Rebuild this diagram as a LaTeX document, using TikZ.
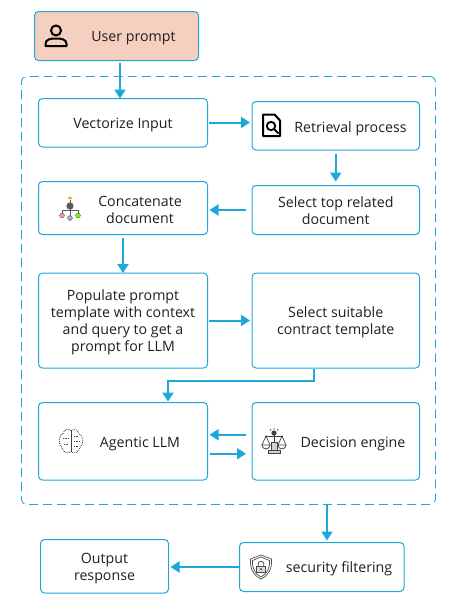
\documentclass[tikz,border=0pt]{standalone}
\usepackage{fontspec}
\setmainfont{Open Sans}
\usepackage{xcolor}
\usetikzlibrary{arrows.meta,positioning,calc}

\definecolor{flowblue}{HTML}{1EA7DB}
\definecolor{inkdark}{HTML}{1F1F1F}
\definecolor{peach}{HTML}{F5D0C0}

% Icons
\tikzset{
    personicon/.pic={
        \draw[black, line width=2pt] (0,-5.5) circle (5pt);
        \draw[black, line width=2pt, line join=round] (-10.5,10) -- (-10.5,8) .. controls (-10.5,3) and (-5,2.5) .. (0,2.5)
            .. controls (5,2.5) and (10.5,3) .. (10.5,8) -- (10.5,10) -- cycle;
    },
    docicon/.pic={
        \draw[black, line width=2pt, line join=round] (-8.5,-11) -- (3,-11) -- (8.5,-5) -- (8.5,10.5) -- (-8.5,10.5) -- cycle;
        \draw[black, line width=1.8pt] (-0.5,0.5) circle (4.2pt);
        \draw[black, line width=2pt] (2.5,3.5) -- (7,8);
    },
    treeicon/.pic={
        \draw[gray!70!black, line width=0.8pt] (0,-8) -- (0,8);
        \draw[gray!70!black, line width=0.8pt] (-8,6) -- (-8,2) -- (8,2) -- (8,6);
        \fill[orange!70!yellow] (0,-12) -- (2.5,-9) -- (-2.5,-9) -- cycle;
        \fill[gray!70!black] (0,-2) circle (3.6pt);
        \draw[gray!70!black, fill=red!40] (-8,7.5) circle (2.4pt);
        \draw[gray!70!black, fill=violet!40] (0,10) circle (2.4pt);
        \draw[gray!70!black, fill=green!55!yellow] (8,7.5) circle (2.4pt);
    },
    brainicon/.pic={
        \draw[black!75, line width=0.9pt, densely dotted] (0,-11) .. controls (-5,-14) and (-7,-10) .. (-8,-8)
            .. controls (-13,-6) and (-13,4) .. (-9,6) .. controls (-8,11) and (-3,13) .. (0,10);
        \draw[black!75, line width=0.8pt, densely dotted] (0,-11) .. controls (5,-14) and (7,-10) .. (8,-8)
            .. controls (13,-6) and (13,4) .. (9,6) .. controls (8,11) and (3,13) .. (0,10);
        \draw[black!75, line width=0.8pt] (0,-11) -- (0,10);
        \draw[black!75, line width=0.7pt, densely dotted] (-8,-3) -- (-2,-3) (-7,3) -- (-2,3) (3,-5) -- (8,-5) (3,0) -- (9,0) (3,5) -- (7,5);
    },
    scalesicon/.pic={
        \draw[black!75, line width=0.9pt] (-9,-5) -- (9,-5) (0,-8) -- (0,8);
        \draw[black!75, line width=0.7pt] (-12,4) -- (-8,-5) -- (-4,4) (12,4) -- (8,-5) -- (4,4);
        \draw[black!75, line width=0.8pt] (-12,4) arc (180:0:4pt) -- cycle;
        \draw[black!75, line width=0.8pt] (4,4) arc (180:0:4pt) -- cycle;
        \fill[black!75] (0,-8) circle (2.6pt);
        \draw[black!75, line width=0.7pt] (0,-13) -- (0,-11.5) (-4,-12) -- (-3,-10.5) (4,-12) -- (3,-10.5);
        \draw[black!75, fill=gray!35, line width=0.7pt] (-3,1) rectangle (3,9);
        \draw[black!75, fill=gray!35, line width=0.7pt] (-6,9) rectangle (6,12);
    },
    shieldicon/.pic={
        \draw[black!70, line width=0.7pt] (0,-12) -- (10.5,-8) .. controls (11,2) and (8,8) .. (0,12)
            .. controls (-8,8) and (-11,2) .. (-10.5,-8) -- cycle;
        \draw[black!70, line width=0.7pt] (0,-10) -- (8.5,-6.5) .. controls (9,2) and (6,6.5) .. (0,10)
            .. controls (-6,6.5) and (-9,2) .. (-8.5,-6.5) -- cycle;
        \draw[black!70, line width=0.8pt] (-2.8,-1) -- (-2.8,-3) arc (180:360:2.8pt) -- (2.8,-1);
        \draw[black!70, fill=gray!30, line width=0.7pt] (-4.5,-1) rectangle (4.5,5.5);
        \fill[black!80] (0,2.2) circle (1pt);
    }
}

\begin{document}
\begin{tikzpicture}[
    x=1pt, y=1pt,
    font=\fontsize{14.2pt}{17pt}\selectfont,
    % Styles
    flowbox/.style={
        rectangle,
        draw=flowblue,
        line width=1pt,
        rounded corners=4pt,
        outer sep=0pt,
        inner sep=0pt
    },
    leftbox/.style={flowbox, minimum width=169pt},
    rightbox/.style={flowbox, minimum width=167.5pt},
    boxtext/.style={text=inkdark, align=center, inner sep=0pt, yshift=-2pt},
    icon/.style={yscale=-1},
    frame/.style={
        rectangle,
        draw=flowblue,
        line width=0.9pt,
        dash pattern=on 9pt off 5pt,
        rounded corners=5pt,
        outer sep=0pt,
        minimum width=414pt,
        minimum height=428pt
    },
    % Line Styles
    flow/.style={draw=flowblue, line width=2pt, -{Triangle[width=11pt,length=9pt]}}
]

\useasboundingbox (0,0) rectangle (457,-605);

% --- Nodes ---

% Outer dashed region
\node[frame] (Frame) at (228.5,-290.5) {};

% Top
\node[flowbox, fill=peach, minimum width=164pt, minimum height=49pt] (User) at (116.5,-36) {};

% Left Column
\node[leftbox, minimum height=48.5pt] (Vectorize) at (123,-122.75) {};
\node[leftbox, minimum height=53pt, below=34.5pt of Vectorize] (Concatenate) {};
\node[leftbox, minimum height=95pt, below=38.5pt of Concatenate] (Populate) {};
\node[leftbox, minimum height=77.5pt, below=34.5pt of Populate] (Agentic) {};

% Right Column
\node[rightbox, minimum height=48.5pt] (Retrieval) at (335.75,-125.75) {};
\node[rightbox, minimum height=49pt, below=35.5pt of Retrieval] (SelectTop) {};
\node[rightbox, minimum height=95pt, below=38.5pt of SelectTop] (SelectContract) {};
\node[rightbox, minimum height=77.5pt, below=34.5pt of SelectContract] (Decision) {};

% Bottom
\node[flowbox, minimum width=128pt, minimum height=53.5pt] (Output) at (104.5,-566.25) {};
\node[flowbox, minimum width=164.5pt, minimum height=49pt] (Security) at (321.75,-567) {};

% --- Icons and texts ---
\pic[icon] at (56,-36) {personicon};
\node[boxtext] (UserText) at (133.5,-36.5) {User prompt};
\node[boxtext] (VectorizeText) at (Vectorize) {Vectorize Input};
\pic[icon] at (271.5,-125.5) {docicon};
\node[boxtext] (RetrievalText) at (350.5,-127) {Retrieval process};
\node[boxtext] (SelectTopText) at ([yshift=1pt]SelectTop) {Select top related\\document};
\pic[icon] at (70,-208) {treeicon};
\node[boxtext] (ConcatenateText) at (140,-207.5) {Concatenate\\document};
\node[boxtext] (PopulateText) at (Populate) {Populate prompt\\template with context\\and query to get a\\prompt for LLM};
\node[boxtext] (ContractText) at (SelectContract) {Select suitable\\contract template};
\pic[icon] at (71,-441.5) {brainicon};
\node[boxtext] (AgenticText) at (140,-442) {Agentic LLM};
\pic[icon] at (274,-441) {scalesicon};
\node[boxtext] (DecisionText) at (353,-442) {Decision engine};
\node[boxtext] (OutputText) at (Output) {Output\\response};
\pic[icon] at (261,-567) {shieldicon};
\node[boxtext] (SecurityText) at (339,-567) {security filtering};

% --- Relationships ---
\draw[flow, shorten <=2pt] ([xshift=3.5pt]User.south) -- ([xshift=-3pt]Vectorize.north);
\draw[flow, shorten <=1.5pt, shorten >=2pt] ([yshift=0.25pt]Vectorize.east) -- ([yshift=3.25pt]Retrieval.west);
\draw[flow, shorten <=4pt, shorten >=4pt] (Retrieval.south) -- (SelectTop.north);
\draw[flow, shorten <=6pt, shorten >=2pt] (SelectTop.west) -- (SelectTop.west -| Concatenate.east);
\draw[flow, shorten <=3.5pt] (Concatenate.south) -- (Populate.north);
\draw[flow, shorten <=1.5pt, shorten >=2pt] (Populate.east) -- (SelectContract.west);
\draw[flow, shorten <=1pt, shorten >=1pt] ([xshift=-21.75pt]SelectContract.south) |- ([shift={(45pt,22pt)}]Agentic.north) -- ([xshift=45pt]Agentic.north);
\draw[flow, shorten <=6pt, shorten >=2pt] ([yshift=6.5pt]Decision.west) -- ([yshift=6.5pt]Agentic.east);
\draw[flow, shorten <=2pt, shorten >=6pt] ([yshift=-12.5pt]Agentic.east) -- ([yshift=-12.5pt]Decision.west);
\draw[flow, shorten >=2pt] ([xshift=5.25pt]Security.north |- Frame.south) -- ([xshift=5.25pt]Security.north);
\draw[flow, shorten >=2pt] (Security.west) -- (Security.west -| Output.east);

\end{tikzpicture}
\end{document}
